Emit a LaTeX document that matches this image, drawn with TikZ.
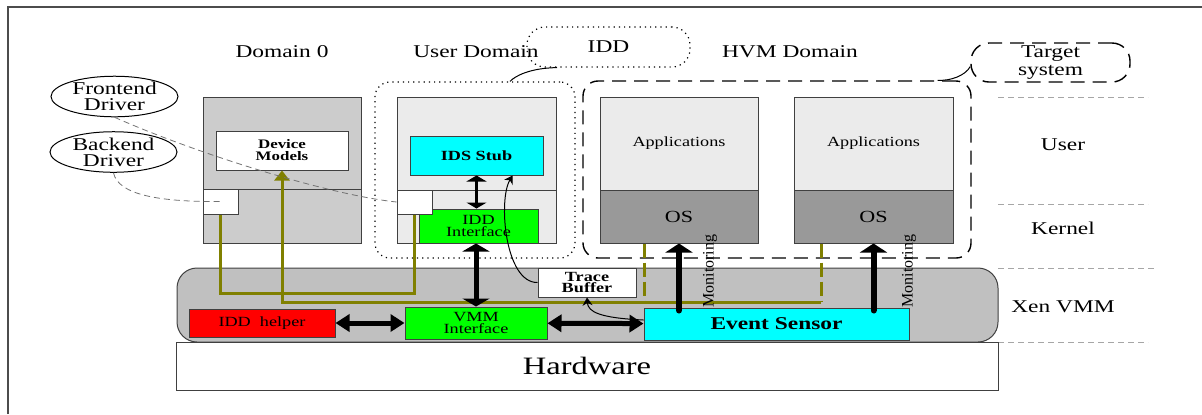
\documentclass[tikz,border=0pt]{standalone}
\usepackage{fontspec}
\setmainfont[FakeStretch=1.3]{Liberation Serif}
\newfontfamily\plainserif{Liberation Serif}
\usetikzlibrary{arrows.meta,shapes.geometric,positioning}

\definecolor{domgray}{RGB}{204,204,204}
\definecolor{usrgray}{RGB}{235,235,235}
\definecolor{osgray}{RGB}{153,153,153}
\definecolor{xengray}{RGB}{192,192,192}
\definecolor{wireolive}{RGB}{128,128,0}
\definecolor{stubcyan}{RGB}{0,255,255}
\definecolor{ifgreen}{RGB}{0,255,0}
\definecolor{helperred}{RGB}{255,0,0}

\tikzset{
  wire/.style={draw=wireolive,line width=1.5pt},
  tapwire/.style={wire,dash pattern=on 7pt off 2.5pt},
  dblarrow/.style={line width=2.5pt,{Triangle[width=8.5pt,length=7pt]}-{Triangle[width=8.5pt,length=7pt]}},
  busarrow/.style={line width=2.5pt,{Triangle[width=13.5pt,length=4pt]}-{Triangle[width=13.5pt,length=4pt]}},
  stubarrow/.style={line width=1.3pt,{Triangle[width=10pt,length=3pt]}-{Triangle[width=10pt,length=3pt]}},
  monarrow/.style={line width=3pt,line cap=round,-{Triangle[width=13.5pt,length=4.5pt]}},
  tracecurve/.style={line width=0.5pt,-{Stealth[length=4pt,width=5pt]}},
  drvlink/.style={draw=black!55,line width=0.4pt,dash pattern=on 3pt off 2pt},
  layerline/.style={draw=black!35,line width=0.4pt,dash pattern=on 3pt off 2pt},
}

\begin{document}
\begin{tikzpicture}[x=0.5pt,y=-0.5pt]
\useasboundingbox (0,0) rectangle (1202,414);
\draw[black!70,line width=0.7pt] (8,414) -- (8,7) -- (1202,7);

% titles, call-outs and layer names
\begin{scope}[every node/.style={inner sep=0pt,align=center,font=\fontsize{9}{10}\selectfont}]

    \node[draw,dotted,line width=0.6pt,rounded corners=9pt,minimum width=81.5pt,minimum height=20pt] (iddcall) at (608.5,47) {IDD};
    \node[draw,dash pattern=on 7pt off 4pt,line width=0.7pt,rounded corners=9pt,minimum width=79.5pt,minimum height=19.5pt,
          font=\fontsize{9}{9}\selectfont] (tgtcall) at (1050.5,62.5) {Target\\system};

    \node (lbld0) at (282,52) {Domain 0};
    \node (lblud) at (476,52) {User Domain};
    \node (lblhvm) at (790,52) {HVM Domain};

    \node (lbluser) at (1063,145) {User};
    \node (lblkern) at (1063,228) {Kernel};
    \node (lblxen) at (1063,307) {Xen VMM};

    \node[draw,dotted,line width=0.6pt,rounded corners=7.5pt,minimum width=100pt,minimum height=88pt] (udbox) at (475,170) {};
    \node[draw,dash pattern=on 7pt off 4pt,line width=0.7pt,rounded corners=7.5pt,minimum width=194pt,minimum height=88.5pt] (hvmbox) at (777,169.5) {};

\end{scope}

\coordinate (tail1a) at ([xshift=-25.75pt]iddcall.south);
\coordinate (tail1b) at ([xshift=17.5pt]udbox.north);
\draw[line width=0.5pt] (tail1a) .. controls (530,68) and (515,76) .. (tail1b);
\coordinate (tail2a) at ([yshift=-2pt]tgtcall.west);
\coordinate (tail2b) at ([xshift=-17pt]hvmbox.north east);
\draw[line width=0.5pt] (tail2a) .. controls (965,76) and (950,81) .. (tail2b);

\draw[layerline] (998,97) -- (1148,97);
\draw[layerline] (998,204) -- (1148,204);
\draw[layerline] (998,268) -- (1156,268);
\draw[layerline] (998,342) -- (1148,342);

% domains, hypervisor and hardware
\begin{scope}[every node/.style={draw=black!75,line width=0.5pt,inner sep=0pt,align=center,
              font=\fontsize{7}{6}\selectfont}]

    \node[fill=xengray,rounded corners=10pt,minimum width=410.5pt,minimum height=37pt] (xen) at (587.5,305) {};
    \node[fill=white,minimum width=411pt,minimum height=24pt,font=\fontsize{12.5}{14}\selectfont] (hw) at (587,366) {Hardware};

    \node[fill=domgray,minimum width=79pt,minimum height=46pt] (d0user) at (282,143) {};
    \node[fill=domgray,minimum width=79pt,minimum height=27pt] (d0kern) at (282,216) {};
    \node[fill=white,minimum width=66pt,minimum height=19.5pt,font=\bfseries\fontsize{6.5}{6}\selectfont] (devmod) at (282,150.5) {Device\\Models};
    \node[fill=white,minimum width=17.5pt,minimum height=12.5pt] (d0port) at (220.5,201.5) {};

    \node[fill=usrgray,minimum width=79.5pt,minimum height=46.5pt] (udtop) at (476.5,143.5) {};
    \node[fill=usrgray,minimum width=79.5pt,minimum height=26.5pt] (udkern) at (476.5,216.5) {};
    \node[fill=stubcyan,minimum width=66.5pt,minimum height=19.5pt,font=\bfseries\fontsize{7}{6}\selectfont] (ids) at (476.5,155.5) {IDS Stub};
    \node[fill=ifgreen,minimum width=59.5pt,minimum height=17pt] (iddif) at (478.5,226) {IDD\\Interface};
    \node[fill=white,minimum width=17.5pt,minimum height=12pt] (udport) at (414.5,202) {};

    \node[fill=usrgray,minimum width=79pt,minimum height=46.5pt] (app1) at (679,143.5) {\raisebox{-2pt}{Applications}};
    \node[fill=osgray,minimum width=79pt,minimum height=26.5pt,font=\fontsize{8.5}{9}\selectfont] (os1) at (679,216.5) {OS};
    \node[fill=usrgray,minimum width=79.5pt,minimum height=46.5pt] (app2) at (873.5,143.5) {\raisebox{-2pt}{Applications}};
    \node[fill=osgray,minimum width=79.5pt,minimum height=26.5pt,font=\fontsize{8.5}{9}\selectfont] (os2) at (873.5,216.5) {OS};

\end{scope}

% device model wiring
\coordinate (loopy) at (0,293);
\coordinate (busy) at (0,302);
\coordinate (tap1) at ([xshift=-17.5pt]os1.south);
\coordinate (tap2) at ([xshift=-26.25pt]os2.south);

\draw[wire] (d0port.south) |- (udport.south |- loopy) -- (udport.south);
\draw[wire,-{Triangle[width=7.5pt,length=5pt]}] (tap2 |- busy) -- (devmod.south |- busy) -- (devmod.south);
\draw[tapwire] (tap1) -- (tap1 |- busy);
\draw[tapwire] (tap2) -- (tap2 |- busy);

\begin{scope}[every node/.style={draw=black!75,line width=0.5pt,inner sep=0pt,align=center,
              font=\fontsize{7}{6.3}\selectfont}]

    \node[fill=helperred,minimum width=73pt,minimum height=14pt] (helper) at (262,323) {IDD~ helper};
    \node[fill=ifgreen,minimum width=71pt,minimum height=16pt] (vmmif) at (476,323) {VMM\\Interface};
    \node[fill=stubcyan,minimum width=132.5pt,minimum height=16pt,font=\bfseries\fontsize{9}{10}\selectfont] (evs) at (776.5,324) {Event Sensor};
    \node[fill=white,minimum width=49pt,minimum height=14.5pt,font=\bfseries\fontsize{7}{5.8}\selectfont] (trace) at (587,282.5) {Trace\\Buffer};

\end{scope}

\coordinate (idsin) at ([xshift=-15.5pt]ids.south east);
\draw[tracecurve] (trace.west) .. controls (505,283) and (498,200) .. (idsin);
\draw[tracecurve] ([yshift=2pt]evs.west) .. controls (600,318) and (588,312) .. (trace.south);

\draw[dblarrow] (helper) -- (vmmif);
\draw[dblarrow] (vmmif) -- (evs);
\draw[busarrow] (vmmif.north |- iddif.south) -- (vmmif.north);
\draw[stubarrow] (ids.south) -- (ids.south |- iddif.north);

\coordinate (mon1) at ([yshift=-1.5pt]os1.south |- evs.north);
\coordinate (mon2) at ([yshift=-1.5pt]os2.south |- evs.north);
\draw[monarrow] (mon1) -- (os1.south);
\draw[monarrow] (mon2) -- (os2.south);
\node[rotate=90,inner sep=0pt,font=\plainserif\fontsize{8}{8}\selectfont] (monlbl1) at (710,271) {Monitoring};
\node[rotate=90,inner sep=0pt,font=\plainserif\fontsize{8}{8}\selectfont] (monlbl2) at (909,271) {Monitoring};

% split drivers
\begin{scope}[every node/.style={draw,ellipse,line width=0.5pt,inner sep=0pt,align=center,
              minimum width=63.5pt,minimum height=19.5pt,font=\fontsize{9}{8}\selectfont}]
    \node (fedrv) at (114.5,96.5) {Frontend\\Driver};
    \node (bedrv) at (113.5,152) {Backend\\Driver};
\end{scope}

\draw[drvlink] (fedrv.south) .. controls (200,155) and (330,195) .. (udport.west);
\draw[drvlink] (bedrv.south) .. controls (118,195) and (160,202) .. (d0port.center);

\end{tikzpicture}
\end{document}
